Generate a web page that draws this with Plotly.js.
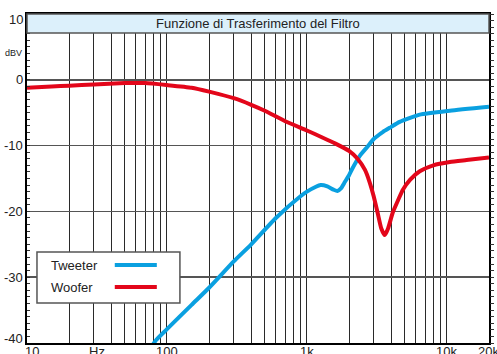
<!DOCTYPE html>
<html>
<head>
<meta charset="utf-8">
<script src="https://cdn.plot.ly/plotly-3.0.1.min.js"></script>
<style>
html,body{margin:0;padding:0;background:#fff;}
#chart{width:497px;height:354px;}
</style>
</head>
<body>
<div id="chart"></div>
<script>
// ---- data ----
var chartTitle = "Funzione di Trasferimento del Filtro";
var seriesNames = ["Tweeter", "Woofer"];

var tweeterFreq = [75, 84, 100, 150, 200, 300, 400, 600, 900, 1000, 1150, 1250, 1400, 1550, 1650, 1750, 1870, 2000, 2100, 2400, 2700, 3000, 3500, 3900, 4600, 6400, 10500, 20000];
var tweeterDb   = [-41, -39.5, -37.9, -34.2, -31.6, -27.6, -25.0, -21.0, -17.7, -17.0, -16.3, -16.0, -16.2, -16.7, -16.9, -16.5, -15.5, -14.5, -13.6, -11.5, -10.2, -9.0, -7.9, -7.3, -6.4, -5.3, -4.7, -4.1];

var wooferFreq = [10, 15, 20, 30, 50, 70, 100, 150, 200, 300, 400, 500, 700, 1000, 1300, 1600, 2000, 2300, 2600, 2800, 3000, 3200, 3400, 3600, 3800, 4100, 4500, 4850, 5450, 6400, 8000, 10500, 13800, 20000];
var wooferDb   = [-1.2, -1.0, -0.9, -0.7, -0.5, -0.5, -0.8, -1.2, -1.8, -2.8, -3.8, -4.7, -6.3, -7.7, -8.8, -9.7, -10.8, -12.0, -13.7, -15.5, -17.7, -20.2, -22.6, -23.6, -22.6, -20.2, -18.2, -16.7, -15.2, -13.9, -13.0, -12.5, -12.2, -11.8];

var xGridVals = [10,20,30,40,50,60,70,80,90,100,200,300,400,500,600,700,800,900,1000,2000,3000,4000,5000,6000,7000,8000,9000,10000,20000];
var xLabelVals = [10, 100, 1000, 10000, 20000];
var xLabelText = ["10", "100", "1k", "10k", "20k"];
var yTickVals = [10, 0, -10, -20, -30, -40];
var yUnit = "dBV";
var xUnit = "Hz";

// ---- styles ----
var blue = "#0aa0e0";
var red = "#e3061a";
var font = "Liberation Sans, Arial, sans-serif";

var traces = [
  {x: tweeterFreq, y: tweeterDb, name: seriesNames[0], type: "scatter", mode: "lines",
   line: {color: blue, width: 4, shape: "spline", smoothing: 0.5}, hoverinfo: "skip"},
  {x: wooferFreq, y: wooferDb, name: seriesNames[1], type: "scatter", mode: "lines",
   line: {color: red, width: 4, shape: "spline", smoothing: 0.5}, hoverinfo: "skip"},
  {x: [], y: [], yaxis: "y2", type: "scatter", mode: "lines", showlegend: false, hoverinfo: "skip"}
];

var annotations = [];
// y tick labels
yTickVals.forEach(function(v){
  var shift = 0;
  if (v === 10) shift = -5;
  if (v === -40) shift = 5;
  annotations.push({xref: "paper", yref: "y", x: 0, y: v, text: String(v), showarrow: false,
    xanchor: "right", yanchor: "middle", xshift: -2, yshift: shift,
    font: {family: font, size: 13, color: "#222"}});
});
// x tick labels
xLabelVals.forEach(function(v, i){
  var xs = 0;
  if (i === 0) xs = 5;
  if (i === xLabelVals.length - 1) xs = -1;
  annotations.push({xref: "x", yref: "paper", x: Math.log10(v), y: 0, text: xLabelText[i], showarrow: false,
    xanchor: "center", yanchor: "top", xshift: xs, yshift: 1,
    font: {family: font, size: 13, color: "#222"}});
});
annotations.push({xref: "paper", yref: "y", x: 0, y: 4, text: yUnit, showarrow: false,
  xanchor: "right", yanchor: "middle", xshift: -3,
  font: {family: font, size: 9, color: "#222"}});
annotations.push({xref: "x", yref: "paper", x: 1.5, y: 0, text: xUnit, showarrow: false,
  xanchor: "center", yanchor: "top", yshift: 1,
  font: {family: font, size: 13, color: "#222"}});
// title
annotations.push({xref: "paper", yref: "paper", x: 0.5, y: 0.971, text: chartTitle, showarrow: false,
  xanchor: "center", yanchor: "middle", font: {family: font, size: 13, color: "#222"}});
// legend text
annotations.push({xref: "paper", yref: "paper", x: 0.048, y: 0.237, text: seriesNames[0], showarrow: false,
  xanchor: "left", yanchor: "middle", font: {family: font, size: 13, color: "#222"}});
annotations.push({xref: "paper", yref: "paper", x: 0.048, y: 0.170, text: seriesNames[1], showarrow: false,
  xanchor: "left", yanchor: "middle", font: {family: font, size: 13, color: "#222"}});

var shapes = [
  // title bar
  {type: "rect", xref: "paper", yref: "paper", x0: 0, x1: 1, y0: 0.942, y1: 1,
   fillcolor: "#dcf0fb", line: {color: "#555", width: 1.5}, layer: "above"},
  // legend box
  {type: "rect", xref: "paper", yref: "paper", x0: 0.0216, x1: 0.331, y0: 0.1216, y1: 0.2766,
   fillcolor: "#ffffff", line: {color: "#555", width: 1.5}, layer: "above"},
  {type: "line", xref: "paper", yref: "paper", x0: 0.190, x1: 0.281, y0: 0.237, y1: 0.237,
   line: {color: blue, width: 4}, layer: "above"},
  {type: "line", xref: "paper", yref: "paper", x0: 0.190, x1: 0.281, y0: 0.170, y1: 0.170,
   line: {color: red, width: 4}, layer: "above"}
];

var layout = {
  width: 497, height: 354,
  margin: {l: 27, r: 8, t: 14, b: 11, pad: 0},
  paper_bgcolor: "#ffffff", plot_bgcolor: "#ffffff",
  showlegend: false,
  font: {family: font, size: 13, color: "#222"},
  xaxis: {type: "log", range: [1, Math.log10(20000)], tickmode: "array",
    tickvals: xGridVals, showticklabels: false, ticks: "", showgrid: true,
    gridcolor: "#2a2a2a", gridwidth: 1, showline: true, linecolor: "#000", linewidth: 2,
    mirror: true, zeroline: false, fixedrange: true},
  yaxis: {range: [-40, 10], tickmode: "array", tickvals: [0, -10, -20, -30],
    showticklabels: false, ticks: "inside", ticklen: 3, tickcolor: "#333",
    minor: {dtick: 1, tick0: 0, ticks: "inside", ticklen: 3, tickcolor: "#333", showgrid: false},
    showgrid: true, gridcolor: "#555", gridwidth: 1.5, showline: true, linecolor: "#000",
    linewidth: 2, mirror: true, zeroline: false, fixedrange: true},
  yaxis2: {range: [-40, 10], overlaying: "y", side: "right", showgrid: false,
    showticklabels: false, tickmode: "array", tickvals: [0, -10, -20, -30],
    ticks: "outside", ticklen: 4, tickcolor: "#333",
    minor: {dtick: 1, tick0: 0, ticks: "outside", ticklen: 4, tickcolor: "#333", showgrid: false},
    zeroline: false, showline: false, fixedrange: true},
  annotations: annotations,
  shapes: shapes
};

Plotly.newPlot("chart", traces, layout, {staticPlot: true, displayModeBar: false});
</script>
</body>
</html>
